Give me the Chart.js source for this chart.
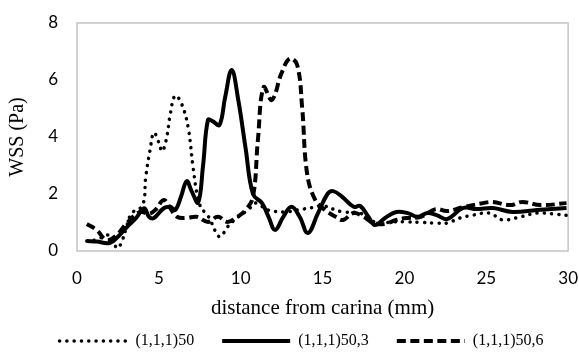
<!DOCTYPE html>
<html lang="en">
<head>
    <meta charset="UTF-8">
    <title>WSS vs distance from carina</title>
    <script src="https://cdn.jsdelivr.net/npm/chart.js"></script>
    <style>
        html, body { margin: 0; padding: 0; background: #fff; }
        #wrap { width: 579px; height: 352px; position: relative; }
    </style>
</head>
<body>
<div id="wrap"><canvas id="wssChart"></canvas></div>
<script>
    // series labels
    const seriesNames = ['(1,1,1)50', '(1,1,1)50,3', '(1,1,1)50,6'];

    // (1,1,1)50 - dotted
    const dist50 = [0.6, 1.2, 2.0, 2.45, 2.75, 3.05, 3.35, 4.0, 4.2, 4.45, 4.7, 5.0, 5.2, 5.45, 5.7, 6.0, 6.4, 6.8, 7.1, 7.45, 7.8, 8.1, 8.4, 8.75, 9.2, 9.85, 10.45, 10.9, 11.2, 11.65, 12.7, 13.5, 14.55, 15.05, 15.65, 16.25, 17.3, 17.9, 18.5, 19.3, 20.2, 21.1, 22.0, 22.6, 23.4, 24.2, 25.2, 26.0, 27.1, 28.1, 29.1, 29.9];
    const wss50  = [0.35, 0.4, 0.55, 0.1, 0.35, 0.9, 1.33, 1.6, 2.6, 3.5, 4.15, 3.8, 3.5, 3.9, 4.8, 5.45, 5.15, 4.3, 2.9, 1.7, 1.35, 1.15, 0.75, 0.5, 0.85, 1.2, 1.44, 1.68, 1.6, 1.44, 1.37, 1.44, 1.54, 1.58, 1.47, 1.37, 1.33, 1.09, 0.98, 1.02, 1.02, 1.0, 0.98, 0.98, 1.16, 1.26, 1.33, 1.09, 1.2, 1.33, 1.3, 1.25];

    // (1,1,1)50,3 - solid
    const dist503 = [0.6, 1.2, 2.0, 2.5, 3.05, 3.6, 4.1, 4.4, 4.7, 5.3, 5.7, 6.0, 6.35, 6.7, 7.0, 7.4, 7.7, 8.0, 8.3, 8.7, 9.05, 9.45, 9.85, 10.3, 10.75, 11.3, 11.7, 12.1, 12.6, 13.1, 13.6, 14.1, 14.7, 15.3, 15.65, 16.2, 16.9, 17.3, 17.8, 18.2, 18.8, 19.5, 20.2, 20.8, 21.4, 22.0, 22.6, 23.6, 24.4, 25.4, 26.6, 28.1, 29.9];
    const wss503  = [0.35, 0.33, 0.28, 0.5, 0.84, 1.15, 1.5, 1.2, 1.16, 1.5, 1.55, 1.44, 1.9, 2.45, 2.1, 1.7, 3.0, 4.6, 4.55, 4.42, 5.4, 6.35, 5.3, 3.6, 2.0, 1.68, 1.2, 0.74, 1.2, 1.55, 1.2, 0.63, 1.3, 2.0, 2.1, 1.9, 1.55, 1.58, 1.2, 0.91, 1.15, 1.37, 1.33, 1.2, 1.33, 1.25, 1.12, 1.51, 1.47, 1.51, 1.37, 1.44, 1.51];

    // (1,1,1)50,6 - dashed
    const dist506 = [0.6, 1.2, 1.8, 2.4, 3.05, 3.85, 4.4, 4.8, 5.3, 5.7, 6.1, 6.7, 7.3, 8.0, 8.6, 9.2, 9.8, 10.3, 10.75, 11.05, 11.4, 11.9, 12.5, 13.0, 13.45, 13.75, 14.05, 14.55, 15.15, 15.8, 16.25, 16.9, 17.5, 18.1, 18.8, 19.5, 20.2, 21.0, 21.9, 22.6, 23.6, 24.8, 25.4, 26.45, 27.2, 28.3, 29.9];
    const wss506  = [0.95, 0.74, 0.39, 0.55, 0.98, 1.37, 1.3, 1.45, 1.79, 1.5, 1.2, 1.16, 1.2, 1.02, 1.2, 1.02, 1.2, 1.44, 1.9, 3.9, 5.75, 5.3, 6.25, 6.75, 6.53, 5.05, 2.74, 1.79, 1.44, 1.2, 1.09, 1.33, 1.2, 0.98, 0.95, 1.09, 1.16, 1.2, 1.47, 1.4, 1.54, 1.68, 1.72, 1.61, 1.72, 1.61, 1.68];

    // axes
    const xTicks = [0, 5, 10, 15, 20, 25, 30];
    const yTicks = [0, 2, 4, 6, 8];
    const xTitle = 'distance from carina (mm)';
    const yTitle = 'WSS (Pa)';

    function pairs(xs, ys) {
        return xs.map((x, i) => ({x: x, y: ys[i]}));
    }

    // grey box round the plot area
    const frameBox = {
        id: 'frameBox',
        beforeDatasetsDraw(chart) {
            const a = chart.chartArea;
            const ctx = chart.ctx;
            ctx.save();
            ctx.strokeStyle = '#c4c4c4';
            ctx.lineWidth = 1.5;
            ctx.strokeRect(a.left, a.top, a.right - a.left, a.bottom - a.top);
            ctx.restore();
        }
    };

    // legend sits a bit right of the canvas centre
    const legendShift = {
        id: 'legendShift',
        afterLayout(chart) {
            chart.legend.left += 12;
            chart.legend.right += 12;
        }
    };

    const common = {
        borderColor: '#000',
        backgroundColor: '#000',
        pointRadius: 0,
        pointStyle: 'line',
        tension: 0.4,
        fill: false
    };

    new Chart(document.getElementById('wssChart'), {
        type: 'line',
        data: {
            datasets: [
                Object.assign({}, common, {
                    label: seriesNames[0],
                    data: pairs(dist50, wss50),
                    borderWidth: 3.5,
                    borderDash: [0.1, 7.2],
                    borderCapStyle: 'round'
                }),
                Object.assign({}, common, {
                    label: seriesNames[1],
                    data: pairs(dist503, wss503),
                    borderWidth: 4
                }),
                Object.assign({}, common, {
                    label: seriesNames[2],
                    data: pairs(dist506, wss506),
                    borderWidth: 4,
                    borderDash: [9, 4.5]
                })
            ]
        },
        options: {
            responsive: true,
            maintainAspectRatio: false,
            animation: false,
            layout: {padding: {top: 23, right: 0, left: 0, bottom: -7}},
            plugins: {
                legend: {
                    position: 'bottom',
                    labels: {
                        usePointStyle: true,
                        pointStyle: 'line',
                        pointStyleWidth: 68,
                        color: '#000',
                        padding: 28,
                        font: {family: 'Liberation Serif', size: 16},
                        generateLabels: chart => Chart.defaults.plugins.legend.labels.generateLabels(chart).map(item => {
                            const ds = chart.data.datasets[item.datasetIndex];
                            item.lineDash = ds.borderDash || [];
                            item.lineCap = ds.borderCapStyle || 'butt';
                            item.lineWidth = ds.borderWidth;
                            item.strokeStyle = '#000';
                            return item;
                        })
                    }
                },
                tooltip: {enabled: false}
            },
            scales: {
                x: {
                    type: 'linear',
                    min: 0,
                    max: 30,
                    afterBuildTicks: s => { s.ticks = xTicks.map(v => ({value: v})); },
                    afterFit: s => { s.height = 54; },
                    // grid hidden; tickLength only spaces the labels off the frame
                    grid: {display: false, drawTicks: true, tickLength: 16},
                    border: {display: false},
                    ticks: {color: '#000', padding: 1, font: {family: 'Lato', size: 17}},
                    title: {
                        display: true,
                        text: xTitle,
                        color: '#000',
                        padding: {top: 0, bottom: -16},
                        font: {family: 'Liberation Serif', size: 21}
                    }
                },
                y: {
                    min: 0,
                    max: 8,
                    afterBuildTicks: s => { s.ticks = yTicks.map(v => ({value: v})); },
                    afterFit: s => { s.width = 77; },
                    grid: {display: false, drawTicks: true, tickLength: 18},
                    border: {display: false},
                    ticks: {color: '#000', padding: 1, font: {family: 'Lato', size: 17}},
                    title: {
                        display: true,
                        text: yTitle,
                        color: '#000',
                        padding: {top: 6, bottom: 0},
                        font: {family: 'Liberation Serif', size: 20}
                    }
                }
            }
        },
        plugins: [frameBox, legendShift]
    });
</script>
</body>
</html>
